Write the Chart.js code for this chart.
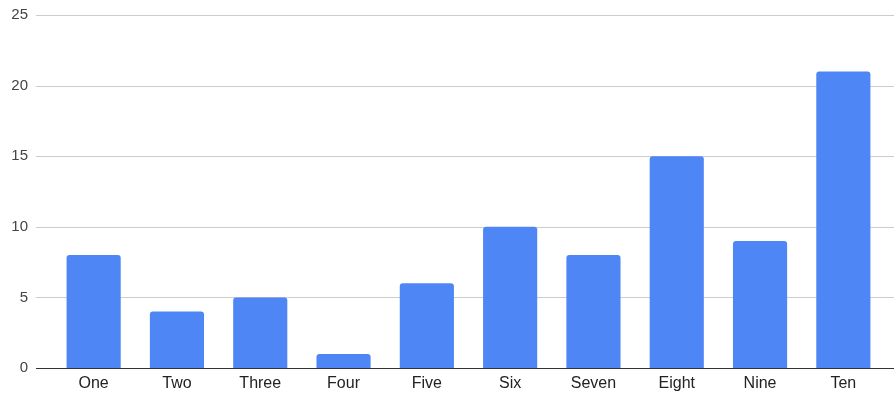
<!DOCTYPE html>
<html>
<head>
<meta charset="utf-8">
<script src="https://cdn.jsdelivr.net/npm/chart.js@4/dist/chart.umd.min.js"></script>
<style>
html,body{margin:0;padding:0;background:#fff;overflow:hidden;}
#wrap{width:894px;height:394px;position:relative;overflow:hidden;}
#c{position:absolute;left:0;top:-18px;}
</style>
</head>
<body>
<div id="wrap"><canvas id="c" width="894" height="419"></canvas></div>
<script>
const categories = ["One","Two","Three","Four","Five","Six","Seven","Eight","Nine","Ten"];
const values = [8,4,5,1,6,10,8,15,9,21];
const yTicks = [0,5,10,15,20,25];

const gridPlugin = {
  id: 'extGrid',
  beforeDatasetsDraw(chart) {
    const ctx = chart.ctx;
    const y = chart.scales.y;
    ctx.save();
    ctx.lineWidth = 1;
    yTicks.forEach(v => {
      const py = Math.round(y.getPixelForValue(v)) + 0.5;
      ctx.strokeStyle = v === 0 ? '#333333' : '#cccccc';
      ctx.beginPath();
      ctx.moveTo(36, py);
      ctx.lineTo(894, py);
      ctx.stroke();
    });
    ctx.restore();
  }
};

new Chart(document.getElementById('c'), {
  type: 'bar',
  data: {
    labels: categories,
    datasets: [{
      data: values,
      backgroundColor: '#4e86f6',
      borderRadius: {topLeft: 3, topRight: 3, bottomLeft: 0, bottomRight: 0},
      borderSkipped: 'bottom',
      barPercentage: 0.65,
      categoryPercentage: 1.0
    }]
  },
  options: {
    responsive: false,
    animation: false,
    layout: {padding: {top: 0, right: 9, left: 0, bottom: 0}},
    plugins: {legend: {display: false}, tooltip: {enabled: false}},
    scales: {
      x: {
        grid: {display: false, drawTicks: false},
        border: {display: false},
        ticks: {color: '#222222', font: {family: 'Liberation Sans, Arial, sans-serif', size: 16}, padding: 6, maxRotation: 0},
        afterFit(s) { s.height = 26; }
      },
      y: {
        min: 0, max: 25,
        afterBuildTicks(s) { s.ticks = yTicks.map(v => ({value: v})); },
        grid: {display: false, drawTicks: false},
        border: {display: false},
        ticks: {color: '#444444', font: {family: 'Liberation Sans, Arial, sans-serif', size: 15}, padding: 24},
        afterFit(s) { s.width = 52; }
      }
    }
  },
  plugins: [gridPlugin]
});
</script>
</body>
</html>
